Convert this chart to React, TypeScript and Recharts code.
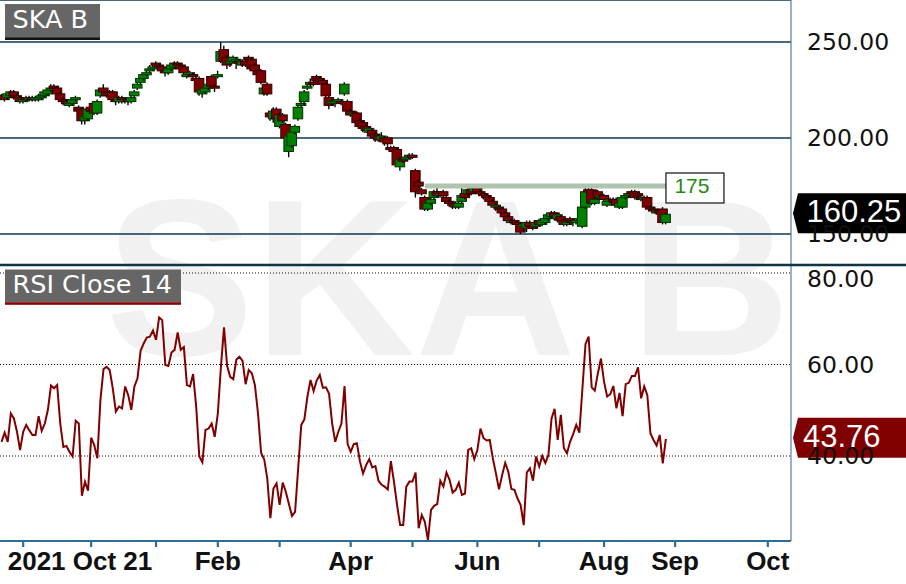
import React from 'react';
import { ComposedChart, Bar, Line, XAxis, YAxis, CartesianGrid, ReferenceLine } from 'recharts';

// ---- daily OHLC (trading days from 2021-10-21 to 2022-08-29) ----
const opens = [
  222,222,221,222,224,222,221,219,221,220,
  221,220,220,221,222,223,225,227,226,223,
  220,219,217,218,220,216,215,209,210,216,
  218,213,222,226,224,224,224,220,219,221,
  219,220,219,222,226,229,231,233,235,236,
  239,238,237,235,234,236,237,239,238,237,
  232,233,233,231,231,223,224,226,232,227,
  232,240,246,242,239,240,240,240,238,240,
  242,241,238,235,235,223,228,213,210,215,
  206,212,207,193,196,203,210,217,219,226,
  228,229,232,231,230,228,221,218,218,219,
  219,223,219,214,212,213,209,208,206,203,
  204,202,201,199,200,200,195,195,194,185,
  189,189,190,191,183,177,173,169,163,166,
  169,172,170,172,169,167,166,166,164,167,
  171,171,173,172,174,172,171,170,169,167,
  164,164,163,161,159,156,157,156,155,154,
  153,156,154,154,157,155,156,158,159,161,
  158,159,157,155,158,157,156,157,154,164,
  173,173,166,172,169,170,165,167,168,168,
  164,164,169,170,172,172,171,169,168,169,
  164,163,161,162,163,156,
];
const highs = [
  223,223,224,225,225,223,222,221,222,222,
  222,222,223,223,225,226,228,228,227,224,
  221,220,219,221,222,217,216,212,216,217,
  219,220,226,228,225,225,225,221,222,222,
  221,221,222,225,229,232,234,236,238,238,
  240,239,238,236,237,239,240,240,239,238,
  234,235,234,232,232,226,227,229,233,228,
  235,250,248,243,241,243,242,241,241,241,
  243,242,239,236,236,227,229,214,216,216,
  213,213,208,202,204,207,217,219,225,228,
  231,230,233,232,231,229,222,220,220,221,
  220,229,220,215,214,214,210,209,207,206,
  205,203,202,203,201,201,196,196,195,190,
  190,191,192,192,184,178,174,170,167,169,
  173,175,172,173,170,168,167,167,167,175,
  172,174,174,175,175,173,172,171,170,168,
  166,165,164,162,160,158,158,157,156,156,
  157,157,155,157,158,158,160,161,162,162,
  161,160,158,157,159,158,158,159,165,174,
  174,174,169,173,171,171,168,169,169,169,
  167,170,171,172,173,173,172,170,170,170,
  165,164,163,163,164,161,
];
const lows = [
  220,219,220,221,220,220,218,218,219,219,
  219,219,219,220,221,222,224,225,222,219,
  217,217,216,217,219,213,207,207,209,213,
  212,212,221,223,221,222,219,217,218,218,
  218,217,218,221,225,228,230,232,234,235,
  237,236,234,232,233,235,236,237,235,232,
  231,232,230,228,222,221,223,225,226,224,
  231,239,239,236,237,239,236,238,237,237,
  240,235,233,231,228,222,222,209,208,209,
  205,208,199,190,195,202,209,216,217,225,
  227,227,229,228,227,221,215,217,216,218,
  217,222,213,211,211,206,205,203,203,202,
  200,198,198,198,196,194,193,192,185,183,
  187,188,189,189,169,174,170,162,162,165,
  168,169,169,169,166,164,163,163,163,166,
  168,170,170,171,171,170,168,167,166,164,
  162,162,160,158,156,155,155,154,150,152,
  151,153,152,153,154,154,155,157,158,157,
  156,155,154,154,155,154,155,156,153,163,
  171,165,165,168,168,167,164,166,166,164,
  163,163,168,169,170,168,169,167,167,163,
  162,161,160,160,155,155,
];
const closes = [
  221,220,223,224,222,221,219,220,220,221,
  220,221,221,222,224,225,226,226,223,220,
  219,218,218,220,221,214,209,211,215,214,
  213,219,225,224,222,223,220,219,221,220,
  220,219,221,224,228,231,233,234,236,237,
  238,237,235,234,236,238,239,238,236,234,
  233,234,232,230,224,225,226,228,227,226,
  233,245,240,238,240,242,241,239,240,238,
  241,236,235,233,229,226,223,211,214,210,
  212,209,200,201,203,206,216,218,224,227,
  229,228,230,229,228,222,217,219,219,220,
  218,228,214,212,213,208,206,205,204,205,
  201,200,199,201,198,197,194,193,186,189,
  188,190,191,190,172,175,171,163,166,168,
  172,170,171,170,167,166,165,164,166,170,
  169,173,171,174,172,171,170,169,167,165,
  165,163,161,159,157,157,156,155,151,155,
  156,154,153,156,155,157,158,160,161,159,
  160,157,155,156,157,156,157,158,164,172,
  172,166,168,169,170,168,167,168,167,165,
  166,169,170,171,171,169,170,168,169,164,
  163,162,162,161,156,160.25,
];
// ---- RSI(14) of close ----
const rsi14 = [
  43.1,45.1,43.1,49.3,48.2,45.3,41.3,45.3,46.8,45.6,
  44.6,44.6,48.7,45.5,47.1,50.1,55.4,54.8,55.5,47.1,
  42.0,42.2,40.9,39.9,47.7,47.1,31.3,34.4,32.4,44.0,
  42.4,39.5,52.2,59.0,59.5,58.8,54.8,49.7,50.8,50.4,
  55.2,53.3,50.1,55.2,57.0,63.0,64.6,65.9,66.1,67.4,
  65.4,70.3,69.7,59.9,59.7,62.6,63.2,67.0,63.2,63.8,
  55.5,55.2,57.9,50.8,39.9,38.6,45.7,46.0,47.1,44.2,
  49.3,59.5,68.1,59.7,57.3,56.8,61.1,61.7,60.8,55.7,
  58.8,58.1,55.5,49.3,40.7,39.3,35.1,26.4,32.9,34.0,
  29.3,34.2,32.2,29.5,26.9,27.8,37.3,46.8,48.0,53.0,
  56.6,54.2,56.5,57.7,54.9,55.0,53.6,47.1,43.1,45.3,
  47.1,55.3,42.6,40.9,42.6,42.8,38.8,36.2,38.0,39.3,
  37.5,37.8,34.6,33.7,33.3,32.7,38.9,34.4,29.3,24.9,
  24.9,33.3,34.4,34.4,36.4,24.2,27.1,25.6,21.6,28.2,
  29.1,29.5,34.6,33.3,36.4,34.8,32.0,32.6,34.2,31.5,
  31.8,41.3,41.7,39.3,41.3,46.0,43.9,43.4,43.5,39.5,
  36.2,32.7,35.8,38.5,36.6,32.8,32.6,30.7,29.3,24.9,
  36.4,37.3,34.6,39.9,37.7,40.0,38.5,40.2,48.2,50.3,
  43.5,49.0,41.7,40.6,43.1,44.8,46.8,45.1,54.8,64.5,
  66.1,55.0,54.3,58.1,61.3,56.2,53.0,53.5,55.3,50.4,
  53.8,48.7,55.7,56.0,57.5,57.5,59.4,52.6,55.2,53.3,
  45.0,43.5,42.3,44.6,38.4,43.76,
];

const FUTURE_SLOTS = 40;
const priceDomain = [133.85, 271.875];
const priceTicks = [150, 200, 250];
const rsiDomain = [21.42, 81.75];
const rsiTicks = [40, 60, 80];
const lastPrice = 160.25;
const lastRsi = 43.76;
const resistanceLevel = 175;
const resistanceFrom = 137;
const resistanceTo = 216;
const axisTickSlots = [2, 7, 29, 50, 70, 90, 113, 133, 154, 174, 195, 218, 248];
const axisTickLabels = ['2021 Oct 21', '', '', '', 'Feb', '', 'Apr', '', 'Jun', '', 'Aug', 'Sep', 'Oct'];

const rows = Array.from({ length: closes.length + FUTURE_SLOTS }, (_, i) =>
  i < closes.length
    ? { i, o: opens[i], h: highs[i], l: lows[i], c: closes[i], range: [lows[i], highs[i]], rsi: rsi14[i] }
    : { i }
);

const W = 906;
const AXIS_W = 115;
const GRID = '#0e3750';
const BLUE = '#2f6d96';

const Candle = (props: any) => {
  const { x, y, width, height, payload } = props;
  if (!payload || payload.o == null) return null;
  const { o, c, h, l } = payload;
  const top = Math.min(y, y + height);
  const span = Math.abs(height);
  const py = (v: number) => (h === l ? top : top + ((h - v) / (h - l)) * span);
  const cx = x + width / 2;
  const up = c >= o;
  const bt = py(Math.max(o, c));
  const bb = py(Math.min(o, c));
  return (
    <g>
      <line x1={cx} x2={cx} y1={py(h)} y2={py(l)} stroke="#000000" strokeWidth={1.4} />
      <rect
        x={cx - 4.75}
        y={bt}
        width={9.5}
        height={Math.max(bb - bt, 2)}
        fill={up ? '#008000' : '#800000'}
        stroke={up ? '#063806' : '#380000'}
        strokeWidth={1.1}
      />
    </g>
  );
};

const ValueFlag = (props: any) => {
  const { viewBox, text, fill, dx } = props;
  if (!viewBox) return null;
  const x0 = viewBox.x + viewBox.width + 2;
  const cy = viewBox.y;
  const t = cy - 21;
  const b = cy + 19;
  return (
    <g>
      <polygon points={`${x0},${cy - 1} ${x0 + 5},${t} ${x0 + 113},${t} ${x0 + 113},${b} ${x0 + 5},${b}`} fill={fill} />
      <text x={x0 + dx} y={cy + 8} fill="#ffffff" fontSize={31} fontFamily="'Liberation Sans', Arial, sans-serif">
        {text}
      </text>
    </g>
  );
};

const LevelBox = (props: any) => {
  const { viewBox, text } = props;
  if (!viewBox) return null;
  const x0 = viewBox.x + viewBox.width - 3;
  const cy = viewBox.y;
  return (
    <g>
      <rect x={x0} y={cy - 13} width={58} height={30} fill="#ffffff" stroke="#111" strokeWidth={1.2} />
      <text x={x0 + 26} y={cy + 7.5} textAnchor="middle" fill="#1f8a14" fontSize={21} fontFamily="'Liberation Sans', Arial, sans-serif">
        {text}
      </text>
    </g>
  );
};

const DateTick = (props: any) => {
  const { x, y, payload } = props;
  const k = axisTickSlots.indexOf(payload.value);
  if (k < 0) return null;
  const first = k === 0;
  return (
    <g>
      {!first && <line x1={x} x2={x} y1={y} y2={y + 6} stroke={BLUE} strokeWidth={2.2} />}
      <text
        x={x}
        y={y + 29}
        textAnchor={first ? 'start' : 'middle'}
        fill="#111"
        fontSize={26}
        fontWeight="bold"
        fontFamily="'Liberation Sans', Arial, sans-serif"
      >
        {axisTickLabels[k]}
      </text>
    </g>
  );
};

const yTick = { fill: '#111', fontSize: 23.5, fontFamily: "'DejaVu Sans', sans-serif" };
const fmt = (v: number) => v.toFixed(2);

export default function App() {
  return (
    <div style={{ position: 'absolute', left: 0, top: 0, width: W, height: 584, background: '#fff', overflow: 'hidden' }}>
      <svg width={W} height={584} style={{ position: 'absolute', left: 0, top: 0 }}>
        <text x={448} y={355} textAnchor="middle" fill="#f1f1f1" fontSize={223} fontWeight="bold" fontFamily="'Liberation Sans', Arial, sans-serif">
          SKA B
        </text>
      </svg>

      <div style={{ position: 'absolute', left: 0, top: 0 }}>
        <ComposedChart width={W} height={265} data={rows} margin={{ top: 0, right: 0, bottom: 0, left: 0 }}>
          <CartesianGrid vertical={false} stroke={GRID} strokeWidth={1.5} />
          <XAxis dataKey="i" type="category" scale="band" hide />
          <YAxis
            orientation="right"
            type="number"
            width={AXIS_W}
            domain={priceDomain}
            ticks={priceTicks}
            allowDataOverflow
            tickFormatter={fmt}
            tick={yTick}
            tickLine={false}
            tickSize={6}
            tickMargin={10}
            axisLine={{ stroke: '#4d7fa3', strokeWidth: 1.2 }}
          />
          <ReferenceLine
            segment={[{ x: resistanceFrom, y: resistanceLevel }, { x: resistanceTo, y: resistanceLevel }]}
            stroke="#afc4ae"
            strokeWidth={5}
            label={<LevelBox text={String(resistanceLevel)} />}
          />
          <Bar dataKey="range" shape={(p: any) => <Candle {...p} />} isAnimationActive={false} />
          <ReferenceLine y={lastPrice} stroke="none" label={<ValueFlag text={lastPrice.toFixed(2)} fill="#000000" dx={13.5} />} />
        </ComposedChart>
      </div>

      <div style={{ position: 'absolute', left: 0, top: 265 }}>
        <ComposedChart width={W} height={319} data={rows} margin={{ top: 0, right: 0, bottom: 0, left: 0 }}>
          <CartesianGrid vertical={false} stroke="#111" strokeDasharray="1 2" strokeWidth={1.1} />
          <XAxis
            dataKey="i"
            type="category"
            scale="band"
            height={43}
            ticks={axisTickSlots}
            interval={0}
            tickSize={0}
            tickMargin={0}
            tickLine={false}
            tick={(p: any) => <DateTick {...p} />}
            axisLine={{ stroke: BLUE, strokeWidth: 2 }}
          />
          <YAxis
            orientation="right"
            type="number"
            width={AXIS_W}
            domain={rsiDomain}
            ticks={rsiTicks}
            allowDataOverflow
            tickFormatter={fmt}
            tick={yTick}
            tickLine={false}
            tickSize={6}
            tickMargin={10}
            axisLine={{ stroke: '#4d7fa3', strokeWidth: 1.2 }}
          />
          <Line dataKey="rsi" type="linear" stroke="#800000" strokeWidth={2} dot={false} isAnimationActive={false} />
          <ReferenceLine y={lastRsi} stroke="none" label={<ValueFlag text={lastRsi.toFixed(2)} fill="#800000" dx={10} />} />
        </ComposedChart>
      </div>

      <svg width={W} height={584} style={{ position: 'absolute', left: 0, top: 0, pointerEvents: 'none' }}>
        <line x1={0} x2={W} y1={265} y2={265} stroke="#0f3448" strokeWidth={2.6} />
        <rect x={5} y={4} width={95} height={34} fill="#666666" />
        <rect x={5} y={37.5} width={95} height={2.5} fill="#111111" />
        <text x={12.5} y={27.5} fill="#ffffff" fontSize={25.5} fontFamily="'DejaVu Sans', sans-serif">SKA B</text>
        <rect x={5} y={269.5} width={176} height={33} fill="#666666" />
        <rect x={5} y={302.3} width={176} height={2.5} fill="#8b0000" />
        <text x={12.5} y={293.3} fill="#ffffff" fontSize={25.5} fontFamily="'DejaVu Sans', sans-serif">RSI Close 14</text>
      </svg>
    </div>
  );
}
